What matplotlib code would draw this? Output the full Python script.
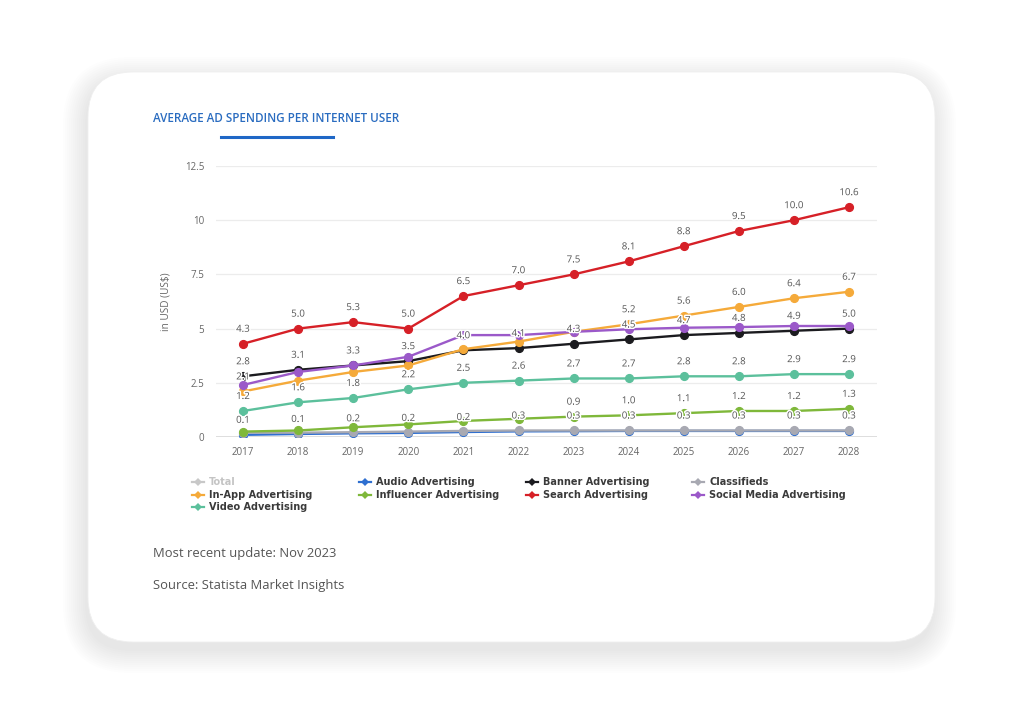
import matplotlib
matplotlib.use("Agg")
import matplotlib.pyplot as plt
import matplotlib.patheffects as pe
from matplotlib.patches import FancyBboxPatch
from matplotlib.lines import Line2D

years = [2017, 2018, 2019, 2020, 2021, 2022, 2023, 2024, 2025, 2026, 2027, 2028]

audio = [0.10, 0.14, 0.17, 0.19, 0.23, 0.26, 0.27, 0.28, 0.28, 0.28, 0.28, 0.28]
banner = [2.8, 3.1, 3.3, 3.5, 4.0, 4.1, 4.3, 4.5, 4.7, 4.8, 4.9, 5.0]
classifieds = [0.20, 0.20, 0.22, 0.25, 0.28, 0.30, 0.30, 0.30, 0.30, 0.30, 0.30, 0.30]
in_app = [2.1, 2.6, 3.0, 3.3, 4.05, 4.4, 4.85, 5.2, 5.6, 6.0, 6.4, 6.7]
influencer = [0.25, 0.3, 0.45, 0.58, 0.74, 0.84, 0.94, 1.0, 1.1, 1.2, 1.2, 1.3]
search = [4.3, 5.0, 5.3, 5.0, 6.5, 7.0, 7.5, 8.1, 8.8, 9.5, 10.0, 10.6]
social = [2.4, 3.0, 3.3, 3.7, 4.7, 4.7, 4.85, 4.97, 5.04, 5.07, 5.12, 5.12]
video = [1.2, 1.6, 1.8, 2.2, 2.5, 2.6, 2.7, 2.7, 2.8, 2.8, 2.9, 2.9]

series_names = ["Total", "Audio Advertising", "Banner Advertising", "Classifieds",
                "In-App Advertising", "Influencer Advertising", "Search Advertising",
                "Social Media Advertising", "Video Advertising"]
series_values = [None, audio, banner, classifieds, in_app, influencer, search, social, video]
series_colors = ["#c8c8c8", "#2f6fd0", "#1b1b1f", "#a8a9b2", "#f5aa3a",
                 "#7fb83a", "#d62027", "#9b59c9", "#5cc09c"]
# years whose data label is visible in the reference
label_years = [[], [2017, 2018, 2019, 2020, 2021], years, list(range(2022, 2029)),
               [2017, 2024, 2025, 2026, 2027, 2028], list(range(2023, 2029)),
               years, [], years]

yticks = [0, 2.5, 5, 7.5, 10, 12.5]
ytick_labels = ["0", "2.5", "5", "7.5", "10", "12.5"]

title = "AVERAGE AD SPENDING PER INTERNET USER"
ylabel = "in USD (US$)"
footer1 = "Most recent update: Nov 2023"
footer2 = "Source: Statista Market Insights"

W, H = 1024, 712
fig = plt.figure(figsize=(W / 100, H / 100), dpi=100)
fig.patch.set_facecolor("white")

bg = fig.add_axes([0, 0, 1, 1])
bg.set_xlim(0, W)
bg.set_ylim(H, 0)
bg.axis("off")

# soft shadow
for i in range(12):
    grow = 1 + i * 2.0
    sh = FancyBboxPatch((88 - grow - 2, 72 - grow + 8), 847 + 2 * grow, 570 + 2 * grow,
                        boxstyle="round,pad=0,rounding_size=%f" % (45 + grow),
                        facecolor="#000000", edgecolor="none", alpha=0.009, zorder=1)
    bg.add_patch(sh)
card = FancyBboxPatch((88, 72), 847, 570, boxstyle="round,pad=0,rounding_size=45",
                      facecolor="white", edgecolor="#efefef", linewidth=0.6, zorder=2)
bg.add_patch(card)

font = "Open Sans"
bg.text(153, 118, title, fontsize=8.4, color="#2a6cc0", fontweight="semibold",
        family=font, va="center", ha="left", zorder=5)
bg.add_line(Line2D([221, 333], [137, 137], color="#1f67c6", linewidth=2.2, zorder=5))

bg.text(153, 553, footer1, fontsize=9.4, color="#555555", family=font,
        va="center", ha="left", zorder=5)
bg.text(153, 585, footer2, fontsize=9.4, color="#555555", family=font,
        va="center", ha="left", zorder=5)

# legend (row-major, 4 columns)
col_x = [198, 365, 532, 698]
row_y = [482, 494.5, 507]
for i, name in enumerate(series_names):
    r, c = divmod(i, 4)
    x, y = col_x[c], row_y[r]
    col = series_colors[i]
    bg.add_line(Line2D([x - 6, x + 6], [y, y], color=col, linewidth=1.6, zorder=5))
    bg.add_line(Line2D([x], [y], marker="D", markersize=4.2, color=col,
                       markeredgewidth=0, zorder=5))
    bg.text(x + 11, y, name, fontsize=7.0, fontweight="bold",
            color="#c4c4c4" if i == 0 else "#3a3a3a", family="DejaVu Sans",
            va="center", ha="left", zorder=5)

# main axes
left = 215.5 / W
bottom = (H - 437) / H
width = (876.6 - 215.5) / W
height = 271 / H
ax = fig.add_axes([left, bottom, width, height])
ax.set_facecolor("none")
ax.set_zorder(3)
ax.set_xlim(2016.5, 2028.5)
ax.set_ylim(0, 12.5)
for s in ax.spines.values():
    s.set_visible(False)
ax.set_yticks(yticks)
ax.set_yticklabels(ytick_labels)
ax.set_xticks(years)
ax.set_xticklabels([str(y) for y in years])
ax.tick_params(axis="both", length=0, labelsize=7, labelcolor="#666666")
ax.tick_params(axis="y", pad=8)
ax.tick_params(axis="x", pad=7)
for lab in ax.get_xticklabels() + ax.get_yticklabels():
    lab.set_family(font)
ax.grid(axis="y", color="#ececec", linewidth=0.9)
ax.axhline(0, color="#d6d6d6", linewidth=1.2, zorder=1)
ax.set_ylabel(ylabel, fontsize=7.2, color="#666666", family=font, labelpad=10)

outline = [pe.withStroke(linewidth=2.2, foreground="white")]
for i, vals in enumerate(series_values):
    if vals is None:
        continue
    ax.plot(years, vals, color=series_colors[i], linewidth=1.7, marker="o",
            markersize=5.6, zorder=3 + i)
for i, vals in enumerate(series_values):
    if vals is None:
        continue
    for yr, v in zip(years, vals):
        if yr in label_years[i]:
            ax.annotate("%.1f" % v, (yr, v), xytext=(0, 6.5), textcoords="offset points",
                        ha="center", va="bottom", fontsize=7, color="#555555",
                        family=font, path_effects=outline, zorder=20)

fig.savefig("out.png", dpi=100, facecolor="white")
